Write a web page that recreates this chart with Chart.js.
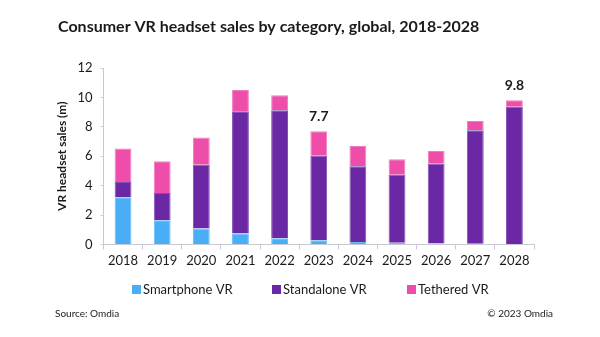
<!DOCTYPE html>
<html lang="en">
<head>
    <meta charset="UTF-8">
    <title>Consumer VR headset sales</title>
    <script src="https://cdn.jsdelivr.net/npm/chart.js"></script>
    <style>
        body { margin: 0; background: #fff; }
        #wrap { width: 600px; height: 337px; }
    </style>
</head>
<body>
    <div id="wrap"><canvas id="ventas" width="600" height="337"></canvas></div>

    <script>
        // Years and sales per category (millions of units)
        var years = ['2018', '2019', '2020', '2021', '2022', '2023', '2024', '2025', '2026', '2027', '2028'];
        var smartphone = [3.20, 1.64, 1.08, 0.75, 0.41, 0.28, 0.16, 0.12, 0.07, 0.05, 0.03];
        var standalone = [1.05, 1.85, 4.33, 8.31, 8.72, 5.75, 5.16, 4.61, 5.41, 7.71, 9.33];
        var tethered   = [2.28, 2.17, 1.87, 1.44, 1.01, 1.67, 1.38, 1.07, 0.87, 0.64, 0.44];
        // years whose total gets a label above the bar
        var labelledYears = ['2023', '2028'];

        var fontFam = 'Lato, "Open Sans", sans-serif';
        var textColor = '#1a1a1a';

        // totals above selected bars, title, legend and footer
        var extras = {
            id: 'extras',
            afterDatasetsDraw: function(chart) {
                var ctx = chart.ctx;
                var meta = chart.getDatasetMeta(2);
                ctx.save();
                ctx.fillStyle = textColor;
                ctx.font = 'bold 14px ' + fontFam;
                ctx.textAlign = 'center';
                ctx.textBaseline = 'bottom';
                labelledYears.forEach(function(y) {
                    var i = years.indexOf(y);
                    var total = smartphone[i] + standalone[i] + tethered[i];
                    var bar = meta.data[i];
                    ctx.fillText(total.toFixed(1), bar.x, bar.y - 8);
                });
                ctx.restore();
            },
            afterDraw: function(chart) {
                var ctx = chart.ctx;
                ctx.save();
                ctx.fillStyle = textColor;
                ctx.textBaseline = 'middle';
                ctx.textAlign = 'left';
                ctx.font = 'bold 16px ' + fontFam;
                ctx.fillText('Consumer VR headset sales by category, global, 2018-2028', 58, 27);

                // legend row
                var legendX = [132, 272, 407];
                ctx.font = '13px ' + fontFam;
                chart.data.datasets.forEach(function(ds, k) {
                    ctx.fillStyle = ds.backgroundColor;
                    ctx.fillRect(legendX[k], 285, 9, 9);
                    ctx.fillStyle = textColor;
                    ctx.fillText(ds.label, legendX[k] + 11, 290);
                });

                ctx.font = '10px ' + fontFam;
                ctx.fillText('Source: Omdia', 55, 314);
                ctx.textAlign = 'right';
                ctx.fillText('\u00a9 2023 Omdia', 553, 314);
                ctx.restore();
            }
        };

        var ctx = document.getElementById('ventas').getContext('2d');
        var grafica = new Chart(ctx, {
            type: 'bar',
            data: {
                labels: years,
                datasets: [{
                    label: 'Smartphone VR',
                    data: smartphone,
                    backgroundColor: '#4aaef7',
                    borderColor: '#6cbcf8',
                    borderWidth: 1
                }, {
                    label: 'Standalone VR',
                    data: standalone,
                    backgroundColor: '#6b28a4',
                    borderColor: '#8250b2',
                    borderWidth: 1
                }, {
                    label: 'Tethered VR',
                    data: tethered,
                    backgroundColor: '#ee4eaa',
                    borderColor: '#f27cc2',
                    borderWidth: 1
                }]
            },
            options: {
                responsive: false,
                animation: false,
                barPercentage: 0.43,
                categoryPercentage: 1,
                layout: { padding: { top: 68, left: 55, right: 66, bottom: 64 } },
                plugins: {
                    legend: { display: false },
                    tooltip: { enabled: false }
                },
                scales: {
                    x: {
                        stacked: true,
                        grid: {
                            offset: true,
                            drawOnChartArea: false,
                            tickLength: 5,
                            color: '#c9c9d4'
                        },
                        border: { color: '#c9c9d4' },
                        ticks: {
                            color: textColor,
                            padding: 4,
                            font: { family: fontFam, size: 13 }
                        }
                    },
                    y: {
                        stacked: true,
                        min: 0,
                        max: 12,
                        ticks: {
                            stepSize: 2,
                            color: textColor,
                            padding: 8,
                            font: { family: fontFam, size: 13 }
                        },
                        grid: {
                            drawOnChartArea: false,
                            tickLength: 3,
                            color: '#c9c9d4'
                        },
                        border: { color: '#c9c9d4' },
                        title: {
                            display: true,
                            text: 'VR headset sales (m)',
                            color: textColor,
                            padding: { top: 0, bottom: 0 },
                            font: { family: fontFam, size: 12, weight: 'bold' }
                        }
                    }
                }
            },
            plugins: [extras]
        });
    </script>
</body>
</html>
